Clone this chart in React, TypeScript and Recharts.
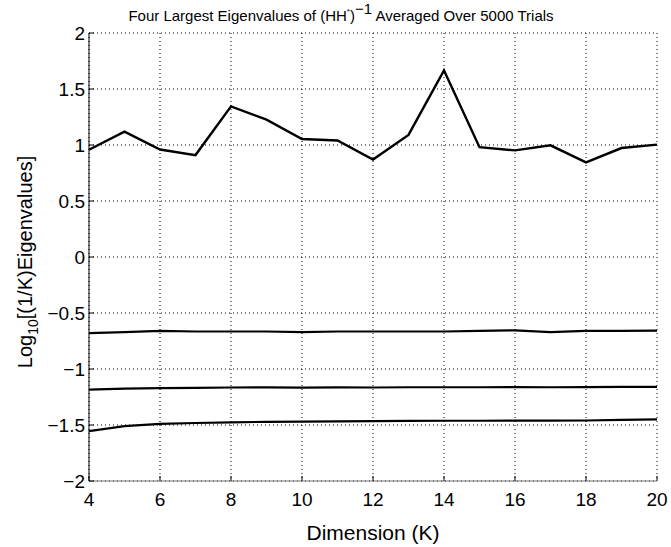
import { LineChart, Line, XAxis, YAxis, CartesianGrid, Label } from 'recharts';

const dims = [4, 5, 6, 7, 8, 9, 10, 11, 12, 13, 14, 15, 16, 17, 18, 19, 20];
const eig1 = [0.958, 1.12, 0.96, 0.91, 1.345, 1.226, 1.054, 1.04, 0.87, 1.09, 1.666, 0.98, 0.952, 0.997, 0.845, 0.973, 1.003];
const eig2 = [-0.68, -0.67, -0.66, -0.665, -0.665, -0.665, -0.67, -0.665, -0.665, -0.665, -0.665, -0.66, -0.655, -0.67, -0.66, -0.66, -0.658];
const eig3 = [-1.185, -1.175, -1.17, -1.168, -1.165, -1.164, -1.166, -1.164, -1.165, -1.163, -1.163, -1.163, -1.162, -1.163, -1.162, -1.16, -1.16];
const eig4 = [-1.555, -1.51, -1.49, -1.482, -1.476, -1.472, -1.47, -1.468, -1.465, -1.463, -1.462, -1.462, -1.461, -1.461, -1.46, -1.455, -1.45];

const xTicks = [4, 6, 8, 10, 12, 14, 16, 18, 20];
const yTicks = [-2, -1.5, -1, -0.5, 0, 0.5, 1, 1.5, 2];

const FONT = '"Liberation Sans", Arial, Helvetica, sans-serif';

const data = dims.map((k, i) => ({
  k,
  e1: eig1[i],
  e2: eig2[i],
  e3: eig3[i],
  e4: eig4[i],
}));

const fmtY = (v: number) => (v < 0 ? `\u2212${Math.abs(v)}` : `${v}`);

export default function App() {
  return (
    <div style={{ position: 'absolute', left: 0, top: 0, width: 671, height: 547, background: '#fff' }}>
      <LineChart
        width={671}
        height={547}
        data={data}
        margin={{ top: 33, right: 14, bottom: 0, left: 0 }}
        style={{ fontFamily: FONT }}
      >
        <CartesianGrid stroke="#000" strokeDasharray="1 3" strokeWidth={1} />
        <XAxis
          dataKey="k"
          type="number"
          domain={[4, 20]}
          ticks={xTicks}
          height={66}
          stroke="#777"
          tickSize={-5}
          tickMargin={17}
          tickLine={{ stroke: '#000' }}
          tick={{ fill: '#000', fontSize: 19 }}
        >
          <Label
            value="Dimension (K)"
            position="insideBottom"
            offset={7}
            style={{ fill: '#000', fontSize: 21, fontFamily: FONT }}
          />
        </XAxis>
        <YAxis
          type="number"
          domain={[-2, 2]}
          ticks={yTicks}
          width={89}
          stroke="#000"
          tickSize={-5}
          tickMargin={9}
          tickFormatter={fmtY}
          tick={{ fill: '#000', fontSize: 19 }}
        />
        <Line dataKey="e1" stroke="#000" strokeWidth={2.4} dot={false} isAnimationActive={false} type="linear" />
        <Line dataKey="e2" stroke="#000" strokeWidth={2.2} dot={false} isAnimationActive={false} type="linear" />
        <Line dataKey="e3" stroke="#000" strokeWidth={2.2} dot={false} isAnimationActive={false} type="linear" />
        <Line dataKey="e4" stroke="#000" strokeWidth={2.2} dot={false} isAnimationActive={false} type="linear" />
      </LineChart>
      <svg
        width={671}
        height={547}
        style={{ position: 'absolute', left: 0, top: 0, pointerEvents: 'none', fontFamily: FONT }}
      >
        <text x={341} y={21} textAnchor="middle" fontSize={15} fill="#000">
          Four Largest Eigenvalues of (HH
          <tspan fontSize={8} dy={-7}>*</tspan>
          <tspan dy={7}>)</tspan>
          <tspan dy={-7}>{'\u22121'}</tspan>
          <tspan dy={7}> Averaged Over 5000 Trials</tspan>
        </text>
        <text
          x={32}
          y={262}
          textAnchor="middle"
          fontSize={20}
          fill="#000"
          transform="rotate(-90 32 262)"
        >
          Log
          <tspan fontSize={14} dy={6}>10</tspan>
          <tspan dy={-6}>[(1/K)Eigenvalues]</tspan>
        </text>
      </svg>
    </div>
  );
}
